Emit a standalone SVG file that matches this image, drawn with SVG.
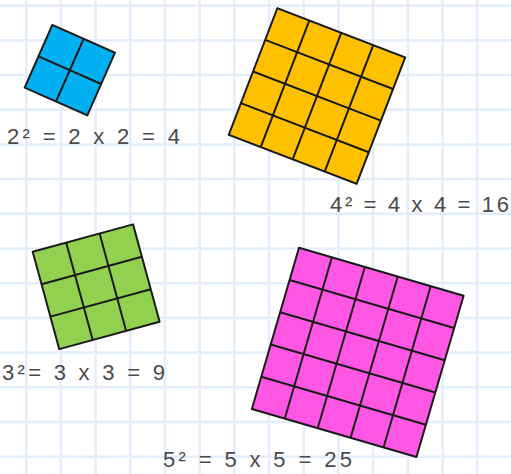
<svg xmlns="http://www.w3.org/2000/svg" width="511" height="474" viewBox="0 0 511 474">
<style>
.grid{fill:none;stroke:#e4eefa;stroke-width:2.5}
.sq{stroke:#1a1a1a;stroke-width:2;stroke-linejoin:round}
.ln{fill:none;stroke:#1a1a1a;stroke-width:2}
.lbl{font-family:"Liberation Sans","Open Sans",sans-serif;font-size:22px;fill:#4a4a4a}
</style>
<rect width="511" height="474" fill="#ffffff"/>
<path class="grid" d="M26.2 0V474M60.9 0V474M95.6 0V474M130.3 0V474M165 0V474M199.7 0V474M234.4 0V474M269.1 0V474M303.8 0V474M338.5 0V474M373.2 0V474M407.9 0V474M442.6 0V474M477.3 0V474M0 5.6H511M0 40.3H511M0 75H511M0 109.7H511M0 144.4H511M0 179.1H511M0 213.8H511M0 248.5H511M0 283.2H511M0 317.9H511M0 352.6H511M0 387.3H511M0 422H511M0 456.7H511"/>
<g id="square2" transform="translate(52.3 25) rotate(23.8)">
<rect class="sq" width="68.5" height="68.5" fill="#00b0f0"/>
<path class="ln" d="M34.25 0V68.5M0 34.25H68.5"/>
</g>
<g id="square4" transform="translate(277.3 8.3) rotate(21)">
<rect class="sq" width="137" height="135.5" fill="#ffc000"/>
<path class="ln" d="M34.25 0V135.5M68.5 0V135.5M102.75 0V135.5M0 33.875H137M0 67.75H137M0 101.625H137"/>
</g>
<g id="square3" transform="translate(32.7 251.7) rotate(-15.25)">
<rect class="sq" width="104" height="101" fill="#92d050"/>
<path class="ln" d="M34.67 0V101M69.33 0V101M0 33.67H104M0 67.33H104"/>
</g>
<g id="square5" transform="translate(299 247.7) rotate(16.3)">
<rect class="sq" width="171.5" height="168" fill="#ff57e3"/>
<path class="ln" d="M34.3 0V168M68.6 0V168M102.9 0V168M137.2 0V168M0 33.6H171.5M0 67.2H171.5M0 100.8H171.5M0 134.4H171.5"/>
</g>
<g id="labels">
<text class="lbl" x="7" y="143.5" textLength="173" lengthAdjust="spacing">2² = 2 x 2 = 4</text>
<text class="lbl" x="330" y="211.5" textLength="179" lengthAdjust="spacing">4² = 4 x 4 = 16</text>
<text class="lbl" x="2" y="380" textLength="163" lengthAdjust="spacing">3²= 3 x 3 = 9</text>
<text class="lbl" x="163" y="466.5" textLength="189" lengthAdjust="spacing">5² = 5 x 5 = 25</text>
</g>
</svg>
